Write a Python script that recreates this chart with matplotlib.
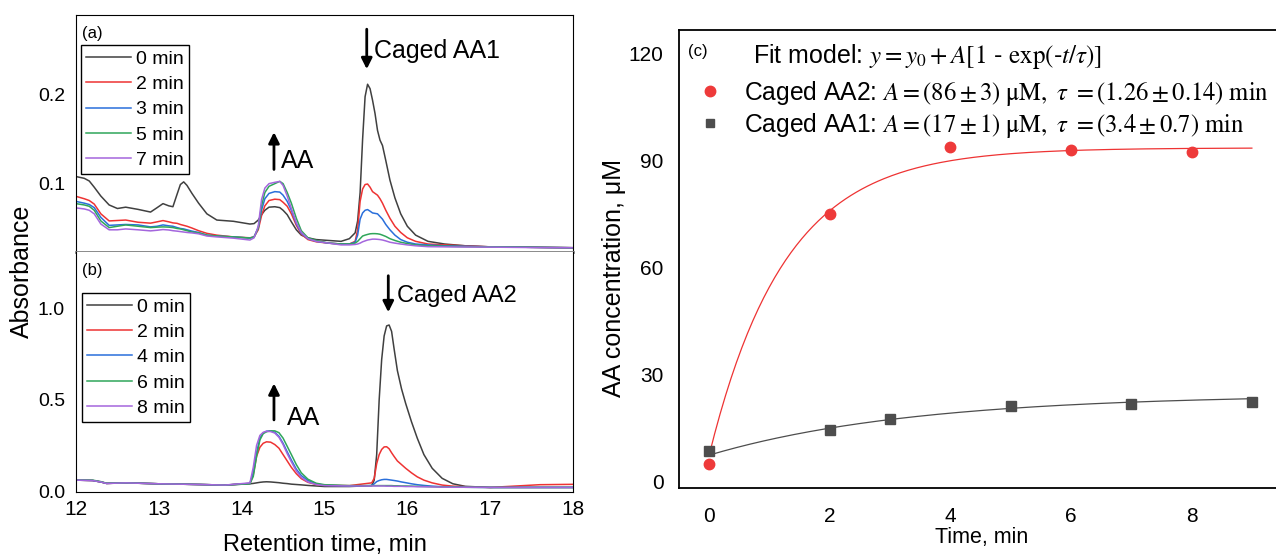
import numpy as np
import matplotlib
matplotlib.use("Agg")
import matplotlib.pyplot as plt
from matplotlib.lines import Line2D

plt.rcParams['font.family'] = ['Liberation Sans', 'DejaVu Sans']
plt.rcParams['mathtext.fontset'] = 'stix'

# ---- panel (a): caged AA1 chromatograms ----
ret_a = [12.0, 12.1, 12.16, 12.22, 12.3, 12.4, 12.5, 12.6, 12.75, 12.9,
         12.98, 13.05, 13.12, 13.17, 13.22, 13.26, 13.3, 13.34, 13.4, 13.48,
         13.58, 13.7, 13.9, 14.1, 14.15, 14.2, 14.24, 14.28, 14.33, 14.4,
         14.46, 14.5, 14.55, 14.6, 14.66, 14.72, 14.8, 14.9, 15.05, 15.2,
         15.3, 15.37, 15.4, 15.43, 15.46, 15.49, 15.52, 15.55, 15.58, 15.61,
         15.64, 15.67, 15.7, 15.74, 15.79, 15.85, 15.92, 16.0, 16.1, 16.25,
         16.45, 16.7, 17.0, 17.5, 18.0]
abs_a_0 = [0.108, 0.106, 0.103, 0.096, 0.086, 0.076, 0.072, 0.0735, 0.071, 0.068,
           0.073, 0.0775, 0.075, 0.074, 0.088, 0.099, 0.102, 0.098, 0.089, 0.078,
           0.066, 0.059, 0.0576, 0.0545, 0.055, 0.059, 0.065, 0.070, 0.0735, 0.074,
           0.073, 0.070, 0.065, 0.057, 0.048, 0.042, 0.039, 0.037, 0.036, 0.035,
           0.038, 0.0446, 0.058, 0.09, 0.15, 0.198, 0.212, 0.207, 0.194, 0.179,
           0.16, 0.149, 0.143, 0.126, 0.104, 0.084, 0.066, 0.052, 0.042, 0.035,
           0.032, 0.030, 0.0288, 0.0283, 0.0278]
abs_a_2 = [0.0857, 0.083, 0.081, 0.077, 0.066, 0.058, 0.0585, 0.059, 0.0565, 0.0555,
           0.057, 0.0584, 0.057, 0.0558, 0.0553, 0.054, 0.053, 0.052, 0.050, 0.047,
           0.044, 0.042, 0.040, 0.039, 0.040, 0.048, 0.064, 0.075, 0.081, 0.0825,
           0.082, 0.079, 0.0745, 0.066, 0.053, 0.043, 0.037, 0.0345, 0.033, 0.032,
           0.032, 0.035, 0.048, 0.080, 0.094, 0.099, 0.0996, 0.096, 0.091, 0.089,
           0.087, 0.083, 0.078, 0.070, 0.061, 0.052, 0.045, 0.039, 0.035, 0.032,
           0.031, 0.030, 0.0288, 0.0283, 0.0278]
abs_a_3 = [0.080, 0.078, 0.0765, 0.073, 0.062, 0.053, 0.0535, 0.054, 0.0535, 0.0513,
           0.052, 0.0535, 0.0525, 0.052, 0.0505, 0.0495, 0.049, 0.048, 0.0465, 0.045,
           0.042, 0.041, 0.040, 0.0387, 0.040, 0.050, 0.070, 0.083, 0.089, 0.091,
           0.0905, 0.087, 0.080, 0.070, 0.055, 0.044, 0.038, 0.035, 0.033, 0.032,
           0.032, 0.034, 0.042, 0.060, 0.067, 0.070, 0.0708, 0.069, 0.067, 0.0665,
           0.066, 0.063, 0.060, 0.054, 0.048, 0.042, 0.037, 0.034, 0.032, 0.031,
           0.030, 0.0295, 0.0288, 0.0283, 0.0278]
abs_a_5 = [0.0775, 0.076, 0.0745, 0.070, 0.058, 0.0505, 0.052, 0.0535, 0.052, 0.0505,
           0.051, 0.0513, 0.051, 0.0505, 0.0495, 0.049, 0.048, 0.047, 0.0455, 0.0445,
           0.042, 0.041, 0.040, 0.0387, 0.040, 0.050, 0.075, 0.090, 0.097, 0.100,
           0.1026, 0.100, 0.090, 0.078, 0.061, 0.047, 0.039, 0.036, 0.033, 0.032,
           0.032, 0.033, 0.035, 0.038, 0.041, 0.042, 0.0428, 0.0435, 0.0437, 0.0437,
           0.0435, 0.043, 0.042, 0.0405, 0.038, 0.036, 0.034, 0.0325, 0.031, 0.030,
           0.0295, 0.029, 0.0288, 0.0283, 0.0278]
abs_a_7 = [0.0727, 0.0715, 0.070, 0.066, 0.0545, 0.048, 0.048, 0.049, 0.048, 0.0468,
           0.0475, 0.0483, 0.0478, 0.047, 0.0465, 0.046, 0.0455, 0.045, 0.0445, 0.0435,
           0.041, 0.040, 0.0386, 0.0365, 0.039, 0.052, 0.082, 0.095, 0.100, 0.1015,
           0.1025, 0.098, 0.086, 0.072, 0.056, 0.045, 0.038, 0.035, 0.033, 0.031,
           0.031, 0.0315, 0.032, 0.033, 0.0345, 0.0355, 0.0365, 0.037, 0.0375, 0.0375,
           0.0373, 0.037, 0.0365, 0.0355, 0.034, 0.033, 0.032, 0.031, 0.030, 0.029,
           0.0288, 0.0286, 0.0285, 0.028, 0.0278]
labels_a = ['0 min', '2 min', '3 min', '5 min', '7 min']

# ---- panel (b): caged AA2 chromatograms ----
ret_b = [12.0, 12.2, 12.3, 12.37, 12.6, 13.0, 13.5, 13.8, 14.1, 14.14,
         14.18, 14.22, 14.26, 14.3, 14.35, 14.4, 14.45, 14.5, 14.55, 14.6,
         14.66, 14.72, 14.8, 14.9, 15.0, 15.3, 15.57, 15.6, 15.63, 15.66,
         15.69, 15.72, 15.75, 15.78, 15.81, 15.84, 15.88, 15.93, 15.98, 16.05,
         16.12, 16.2, 16.3, 16.42, 16.55, 16.7, 17.0, 17.6, 18.0]
abs_b_0 = [0.06, 0.058, 0.05, 0.042, 0.045, 0.04, 0.036, 0.033, 0.04, 0.042,
           0.045, 0.048, 0.05, 0.051, 0.05, 0.048, 0.046, 0.043, 0.041, 0.038,
           0.036, 0.034, 0.031, 0.028, 0.025, 0.025, 0.03, 0.06, 0.2, 0.5,
           0.72, 0.85, 0.905, 0.91, 0.875, 0.78, 0.66, 0.56, 0.48, 0.38,
           0.29, 0.2, 0.125, 0.07, 0.04, 0.026, 0.02, 0.02, 0.02]
abs_b_2 = [0.06, 0.058, 0.05, 0.042, 0.045, 0.04, 0.036, 0.033, 0.042, 0.09,
           0.19, 0.24, 0.262, 0.27, 0.268, 0.255, 0.235, 0.2, 0.165, 0.13,
           0.095, 0.068, 0.048, 0.036, 0.032, 0.03, 0.045, 0.07, 0.15, 0.2,
           0.228, 0.242, 0.243, 0.232, 0.21, 0.19, 0.165, 0.145, 0.125, 0.1,
           0.078, 0.06, 0.045, 0.033, 0.027, 0.024, 0.02, 0.035, 0.037]
abs_b_4 = [0.06, 0.058, 0.05, 0.042, 0.045, 0.04, 0.036, 0.033, 0.042, 0.1,
           0.21, 0.29, 0.318, 0.328, 0.33, 0.322, 0.3, 0.262, 0.215, 0.17,
           0.12, 0.085, 0.058, 0.04, 0.032, 0.028, 0.03, 0.04, 0.052, 0.058,
           0.062, 0.064, 0.064, 0.062, 0.06, 0.058, 0.055, 0.05, 0.046, 0.04,
           0.035, 0.031, 0.027, 0.024, 0.022, 0.021, 0.02, 0.02, 0.02]
abs_b_6 = [0.06, 0.06, 0.052, 0.043, 0.045, 0.04, 0.036, 0.033, 0.04, 0.08,
           0.19, 0.28, 0.315, 0.325, 0.33, 0.33, 0.32, 0.29, 0.245, 0.2,
           0.145, 0.1, 0.065, 0.043, 0.035, 0.03, 0.03, 0.03, 0.03, 0.03,
           0.03, 0.03, 0.03, 0.03, 0.03, 0.029, 0.029, 0.028, 0.028, 0.027,
           0.026, 0.025, 0.024, 0.023, 0.022, 0.021, 0.02, 0.02, 0.02]
abs_b_8 = [0.06, 0.058, 0.05, 0.042, 0.045, 0.04, 0.036, 0.033, 0.045, 0.13,
           0.25, 0.305, 0.322, 0.328, 0.326, 0.318, 0.295, 0.255, 0.205, 0.16,
           0.11, 0.075, 0.05, 0.036, 0.03, 0.028, 0.028, 0.028, 0.028, 0.028,
           0.028, 0.028, 0.027, 0.027, 0.027, 0.026, 0.026, 0.026, 0.025, 0.025,
           0.024, 0.024, 0.023, 0.022, 0.021, 0.021, 0.02, 0.02, 0.02]
labels_b = ['0 min', '2 min', '4 min', '6 min', '8 min']

# ---- panel (c): AA release kinetics ----
t_aa2 = [0, 2, 4, 6, 8]
c_aa2 = [4.9, 74.9, 93.8, 92.9, 92.4]
t_aa1 = [0, 2, 3, 5, 7, 9]
c_aa1 = [8.6, 14.5, 17.6, 21.2, 21.9, 22.4]
# fit parameters (y0, A, tau)
fit_aa2 = (7.5, 86, 1.26)
fit_aa1 = (7.5, 17, 3.4)

colors = ['#404040', '#ee3333', '#2a6fdb', '#2fa65a', '#a466dd']

W, H = 1276, 555
fig = plt.figure(figsize=(W / 100, H / 100), dpi=100)


def box(l, t, r, b):
    return [l / W, 1 - b / H, (r - l) / W, (b - t) / H]


ax_a = fig.add_axes(box(76, 15, 573, 252))
ax_b = fig.add_axes(box(76, 252, 573, 492))
ax_c = fig.add_axes(box(679, 30, 1276, 488))

for y, c, lab in zip([abs_a_0, abs_a_2, abs_a_3, abs_a_5, abs_a_7], colors, labels_a):
    ax_a.plot(ret_a, y, color=c, lw=1.1, label=lab)
for y, c, lab in zip([abs_b_0, abs_b_2, abs_b_4, abs_b_6, abs_b_8], colors, labels_b):
    ax_b.plot(ret_b, y, color=c, lw=1.1, label=lab)

ax_a.set_xlim(12, 18)
ax_a.set_ylim(0.023, 0.29)
ax_a.set_yticks([0.1, 0.2])
ax_a.set_yticklabels(['0.1', '0.2'])
ax_a.set_xticks([])
ax_b.set_xlim(12, 18)
ax_b.set_ylim(-0.005, 1.31)
ax_b.set_yticks([0.0, 0.5, 1.0])
ax_b.set_yticklabels(['0.0', '0.5', '1.0'])
ax_b.set_xticks([12, 13, 14, 15, 16, 17, 18])

for ax in (ax_a, ax_b):
    ax.tick_params(length=0, labelsize=14)
    ax.tick_params(axis='y', pad=8)
    ax.tick_params(axis='x', pad=6, labelsize=15)
ax_a.spines['bottom'].set_color('#808080')
ax_a.spines['bottom'].set_linewidth(2)
ax_b.spines['top'].set_visible(False)

leg_kw = dict(loc='upper left', fontsize=14, frameon=True, fancybox=False, edgecolor='black',
              framealpha=1, borderaxespad=0, borderpad=0.25, labelspacing=0.4,
              handlelength=2.3, handletextpad=0.3)
leg = ax_a.legend(bbox_to_anchor=(0.01, 0.873), **leg_kw)
leg.get_frame().set_linewidth(1.0)
leg = ax_b.legend(bbox_to_anchor=(0.012, 0.829), **leg_kw)
leg.get_frame().set_linewidth(1.0)

ax_a.text(0.012, 0.92, '(a)', transform=ax_a.transAxes, fontsize=12, va='center')
ax_b.text(0.012, 0.925, '(b)', transform=ax_b.transAxes, fontsize=12, va='center')

arrow = dict(arrowstyle='-|>', color='black', lw=2, mutation_scale=16, shrinkA=0, shrinkB=0)
ax_a.annotate('', xy=(14.39, 0.158), xytext=(14.39, 0.116), arrowprops=arrow)
ax_a.text(14.47, 0.125, 'AA', fontsize=18, va='center')
ax_a.annotate('', xy=(15.51, 0.229), xytext=(15.51, 0.274), arrowprops=arrow)
ax_a.text(15.6, 0.249, 'Caged AA1', fontsize=18, va='center')
ax_b.annotate('', xy=(14.39, 0.59), xytext=(14.39, 0.39), arrowprops=arrow)
ax_b.text(14.55, 0.40, 'AA', fontsize=18, va='center')
ax_b.annotate('', xy=(15.77, 0.98), xytext=(15.77, 1.18), arrowprops=arrow)
ax_b.text(15.88, 1.07, 'Caged AA2', fontsize=17, va='center')

fig.text(22 / W, 1 - 271 / H, 'Absorbance', rotation=90, fontsize=18, ha='center', va='center')
fig.text(325 / W, 1 - 545 / H, 'Retention time, min', fontsize=17, ha='center', va='center')

# panel (c)
tt = np.linspace(0, 9, 200)
y0, A, tau = fit_aa2
ax_c.plot(tt, y0 + A * (1 - np.exp(-tt / tau)), color='#ee3333', lw=0.9)
y0, A, tau = fit_aa1
ax_c.plot(tt, y0 + A * (1 - np.exp(-tt / tau)), color='#4d4d4d', lw=0.9)
ax_c.plot(t_aa1, c_aa1, 's', color='#4d4d4d', ms=6.5, ls='none')
ax_c.plot(t_aa2, c_aa2, 'o', color='#ee3a3a', ms=7.5, ls='none')

ax_c.set_xlim(-0.5, 9.4)
ax_c.set_ylim(-1.7, 126.5)
ax_c.set_xticks([0, 2, 4, 6, 8])
ax_c.set_yticks([0, 30, 60, 90, 120])
ax_c.tick_params(length=0, labelsize=15)
ax_c.tick_params(axis='y', pad=11)
ax_c.tick_params(axis='x', pad=14)
ax_c.spines['right'].set_visible(False)
for s in ('left', 'bottom', 'top'):
    ax_c.spines[s].set_linewidth(1.3)

ax_c.text(0.015, 0.952, '(c)', transform=ax_c.transAxes, fontsize=12, va='center')
ax_c.text(0.124, 0.943, r'Fit model: $y = y_0 + A[1$ - $\mathrm{exp}($-$t/\tau)]$',
          transform=ax_c.transAxes, fontsize=18, va='center')
handles = [Line2D([], [], marker='o', color='#ee3a3a', ls='none', ms=7.5),
           Line2D([], [], marker='s', color='#4d4d4d', ls='none', ms=6)]
labels_c = [r'Caged AA2: $A = (86 \pm 3)\ \mathrm{\mu M},\ \tau\ = (1.26 \pm 0.14)\ \mathrm{min}$',
            r'Caged AA1: $A = (17 \pm 1)\ \mathrm{\mu M},\ \tau\ = (3.4 \pm 0.7)\ \mathrm{min}$']
ax_c.legend(handles, labels_c, loc='upper left', bbox_to_anchor=(0.031, 0.893), frameon=False,
            fontsize=17.7, borderaxespad=0, borderpad=0, handlelength=1.0, handletextpad=0.9,
            labelspacing=0.12)

fig.text(614 / W, 1 - 278 / H, 'AA concentration, μM', rotation=90, fontsize=18,
         ha='center', va='center')
fig.text(982 / W, 1 - 538 / H, 'Time, min', fontsize=15.5, ha='center', va='center')

fig.savefig('out.png', dpi=100)
